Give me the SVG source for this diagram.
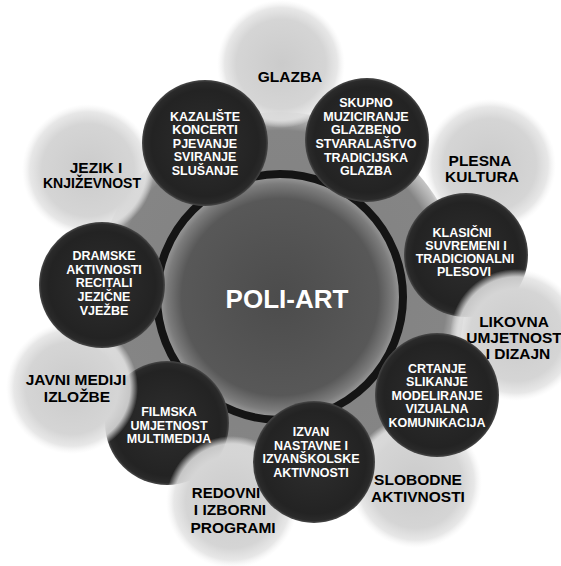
<svg xmlns="http://www.w3.org/2000/svg" width="561" height="566" viewBox="0 0 561 566">
<defs>
<radialGradient id="gLight">
<stop offset="0" stop-color="#cbcbcb"/>
<stop offset="0.7" stop-color="#d5d5d5"/>
<stop offset="0.88" stop-color="#e3e3e3" stop-opacity="0.85"/>
<stop offset="1" stop-color="#f2f2f2" stop-opacity="0"/>
</radialGradient>
<radialGradient id="gDark">
<stop offset="0" stop-color="#2e2e2e"/>
<stop offset="0.85" stop-color="#232323"/>
<stop offset="0.96" stop-color="#2a2a2a"/>
<stop offset="1" stop-color="#4a4a4a"/>
</radialGradient>
<radialGradient id="gCenter">
<stop offset="0" stop-color="#4c4c4c"/>
<stop offset="0.8" stop-color="#585858"/>
<stop offset="0.92" stop-color="#7c7c7c"/>
<stop offset="1" stop-color="#a4a4a4"/>
</radialGradient>
<radialGradient id="gBlob">
<stop offset="0" stop-color="#808080"/>
<stop offset="0.9" stop-color="#858585"/>
<stop offset="1" stop-color="#a0a0a0" stop-opacity="0.6"/>
</radialGradient>
</defs>
<style>
.lt{fill:url(#gLight)}
.dk{fill:url(#gDark)}
text{font-family:"Liberation Sans",Arial,Helvetica,sans-serif;font-weight:bold;text-anchor:middle}
.tw{fill:#ffffff;font-size:12.5px}
.tb{fill:#000000;font-size:15.5px}
.tc{fill:#ffffff;font-size:26px}
</style>
<rect width="561" height="566" fill="#ffffff"/>
<circle id="background-halo" cx="280" cy="297" r="185" fill="url(#gBlob)"/>

<g id="connectors"></g>

<g id="node-glazba">
<circle class="lt" cx="281" cy="64" r="64"/>
<text class="tb"><tspan x="290" y="82">GLAZBA</tspan></text>
</g>

<g id="node-jezik">
<circle class="lt" cx="88" cy="170" r="66"/>
<text class="tb"><tspan x="96" y="173">JEZIK I</tspan><tspan x="92" y="188" style="font-size:14px">KNJIŽEVNOST</tspan></text>
</g>

<g id="node-plesna">
<circle class="lt" cx="490" cy="165" r="66"/>
<text class="tb"><tspan x="480" y="166">PLESNA</tspan><tspan x="482" y="182">KULTURA</tspan></text>
</g>

<g id="node-poli-art">
<circle cx="280" cy="297" r="123" fill="url(#gCenter)" stroke="#141414" stroke-width="8"/>
<text class="tc"><tspan x="287" y="308">POLI-ART</tspan></text>
</g>

<g id="node-kazaliste">
<circle class="dk" cx="205" cy="143" r="63"/>
<text class="tw"><tspan x="205" y="121">KAZALIŠTE</tspan><tspan x="205" y="134">KONCERTI</tspan><tspan x="205" y="147.5">PJEVANJE</tspan><tspan x="205" y="161">SVIRANJE</tspan><tspan x="205" y="175">SLUŠANJE</tspan></text>
</g>

<g id="node-skupno">
<circle class="dk" cx="367" cy="140" r="62"/>
<text class="tw"><tspan x="366" y="107">SKUPNO</tspan><tspan x="366" y="120.5">MUZICIRANJE</tspan><tspan x="366" y="134">GLAZBENO</tspan><tspan x="366" y="147.5">STVARALAŠTVO</tspan><tspan x="366" y="161.5">TRADICIJSKA</tspan><tspan x="366" y="175">GLAZBA</tspan></text>
</g>

<g id="node-klasicni">
<circle class="dk" cx="466" cy="255" r="62"/>
<text class="tw"><tspan x="462" y="237">KLASIČNI</tspan><tspan x="466" y="250">SUVREMENI I</tspan><tspan x="465" y="263">TRADICIONALNI</tspan><tspan x="464" y="276">PLESOVI</tspan></text>
</g>

<g id="node-filmska">
<circle class="dk" cx="167" cy="423" r="62"/>
<text class="tw"><tspan x="169" y="416">FILMSKA</tspan><tspan x="169" y="429.5">UMJETNOST</tspan><tspan x="169" y="443">MULTIMEDIJA</tspan></text>
</g>

<g id="node-javni">
<circle class="lt" cx="72" cy="388" r="66"/>
<text class="tb"><tspan x="76" y="385">JAVNI MEDIJI</tspan><tspan x="77" y="402">IZLOŽBE</tspan></text>
</g>

<g id="node-dramske">
<circle class="dk" cx="102" cy="285" r="63"/>
<text class="tw"><tspan x="104" y="260">DRAMSKE</tspan><tspan x="104" y="273.5">AKTIVNOSTI</tspan><tspan x="104" y="287">RECITALI</tspan><tspan x="104" y="301">JEZIČNE</tspan><tspan x="104" y="315">VJEŽBE</tspan></text>
</g>

<g id="node-redovni">
<circle class="lt" cx="232" cy="502" r="66"/>
<text class="tb"><tspan x="226" y="498" style="font-size:15px">REDOVNI</tspan><tspan x="230" y="515">I IZBORNI</tspan><tspan x="233" y="533">PROGRAMI</tspan></text>
</g>

<g id="node-slobodne">
<circle class="lt" cx="416" cy="482" r="66"/>
<text class="tb"><tspan x="418" y="485">SLOBODNE</tspan><tspan x="418" y="502">AKTIVNOSTI</tspan></text>
</g>

<g id="node-likovna">
<circle class="lt" cx="516" cy="335" r="66"/>
<text class="tb"><tspan x="514" y="327">LIKOVNA</tspan><tspan x="514" y="343">UMJETNOST</tspan><tspan x="518" y="359">I DIZAJN</tspan></text>
</g>

<g id="node-crtanje">
<circle class="dk" cx="437" cy="395" r="62"/>
<text class="tw"><tspan x="437" y="373">CRTANJE</tspan><tspan x="437" y="386">SLIKANJE</tspan><tspan x="437" y="399.5">MODELIRANJE</tspan><tspan x="437" y="413">VIZUALNA</tspan><tspan x="437" y="427">KOMUNIKACIJA</tspan></text>
</g>

<g id="node-izvan">
<circle class="dk" cx="314" cy="462" r="61"/>
<text class="tw"><tspan x="311" y="436">IZVAN</tspan><tspan x="311" y="449.5">NASTAVNE I</tspan><tspan x="311" y="463">IZVANŠKOLSKE</tspan><tspan x="311" y="477">AKTIVNOSTI</tspan></text>
</g>
</svg>
